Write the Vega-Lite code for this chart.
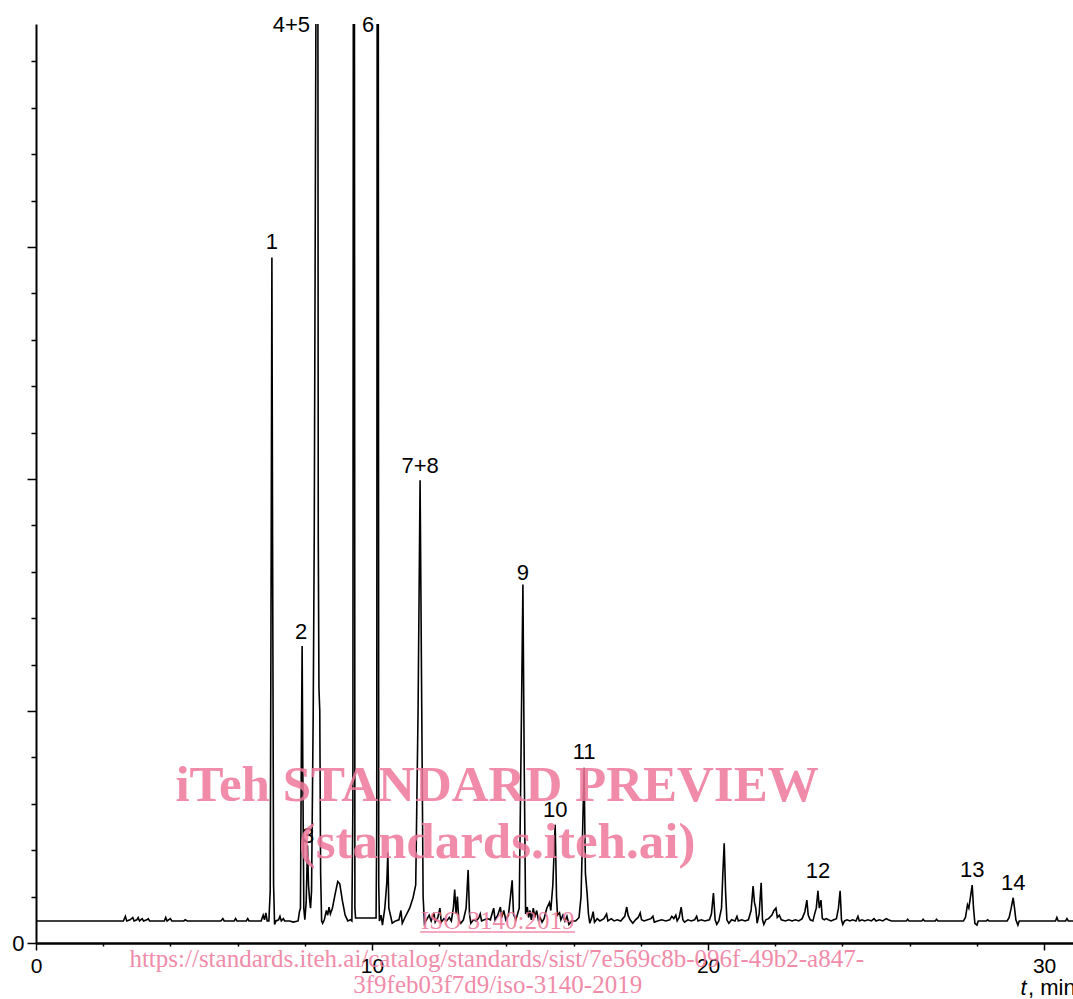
{
  "$schema": "https://vega.github.io/schema/vega-lite/v6.json",
  "width": 1037,
  "height": 919,
  "autosize": {"type": "none"},
  "padding": {"left": 36, "top": 24, "right": 0, "bottom": 56},
  "background": "white",
  "config": {"view": {"stroke": null}},
  "datasets": {
    "trace": [
      {"t":0,"v":0.19},{"t":2.6,"v":0.19},{"t":2.66,"v":0.23},{"t":2.7,"v":0.19},{"t":2.8,"v":0.2},{"t":2.88,"v":0.22},{"t":2.92,"v":0.19},{"t":3.0,"v":0.2},{"t":3.04,"v":0.22},{"t":3.08,"v":0.19},{"t":3.16,"v":0.21},{"t":3.2,"v":0.19},{"t":3.3,"v":0.2},{"t":3.34,"v":0.21},{"t":3.38,"v":0.19},{"t":3.82,"v":0.19},{"t":3.86,"v":0.22},{"t":3.9,"v":0.19},{"t":4.0,"v":0.21},{"t":4.04,"v":0.19},{"t":4.4,"v":0.19},{"t":4.44,"v":0.2},{"t":4.5,"v":0.19},{"t":5.5,"v":0.19},{"t":5.56,"v":0.21},{"t":5.6,"v":0.19},{"t":5.9,"v":0.19},{"t":5.94,"v":0.21},{"t":5.98,"v":0.19},{"t":6.26,"v":0.19},{"t":6.3,"v":0.21},{"t":6.34,"v":0.19},{"t":6.7,"v":0.19},{"t":6.76,"v":0.24},{"t":6.8,"v":0.2},{"t":6.84,"v":0.26},{"t":6.88,"v":0.19},{"t":6.93,"v":0.19},{"t":6.97,"v":0.45},{"t":7.0,"v":3.5},{"t":7.02,"v":5.91},{"t":7.04,"v":3.5},{"t":7.07,"v":0.5},{"t":7.1,"v":0.16},{"t":7.14,"v":0.19},{"t":7.22,"v":0.2},{"t":7.26,"v":0.23},{"t":7.3,"v":0.19},{"t":7.36,"v":0.21},{"t":7.4,"v":0.19},{"t":7.55,"v":0.19},{"t":7.66,"v":0.18},{"t":7.8,"v":0.19},{"t":7.84,"v":0.27},{"t":7.87,"v":0.3},{"t":7.9,"v":1.8},{"t":7.92,"v":2.56},{"t":7.94,"v":1.5},{"t":7.97,"v":0.3},{"t":8.0,"v":0.2},{"t":8.04,"v":0.35},{"t":8.08,"v":0.84},{"t":8.11,"v":0.5},{"t":8.14,"v":0.38},{"t":8.17,"v":0.3},{"t":8.2,"v":0.45},{"t":8.25,"v":2.0},{"t":8.28,"v":3.5},{"t":8.33,"v":8},{"t":8.36,"v":12},{"t":8.38,"v":12},{"t":8.4,"v":3.5},{"t":8.42,"v":2.2},{"t":8.445,"v":2.0},{"t":8.47,"v":0.6},{"t":8.5,"v":0.19},{"t":8.53,"v":0.17},{"t":8.58,"v":0.2},{"t":8.64,"v":0.28},{"t":8.68,"v":0.24},{"t":8.72,"v":0.31},{"t":8.76,"v":0.25},{"t":8.82,"v":0.3},{"t":8.9,"v":0.42},{"t":8.98,"v":0.53},{"t":9.04,"v":0.51},{"t":9.12,"v":0.36},{"t":9.2,"v":0.24},{"t":9.28,"v":0.19},{"t":9.36,"v":0.2},{"t":9.4,"v":0.19},{"t":9.43,"v":1.2},{"t":9.45,"v":12},{"t":9.47,"v":12},{"t":9.49,"v":0.3},{"t":9.51,"v":0.215},{"t":10.12,"v":0.215},{"t":10.14,"v":1.0},{"t":10.16,"v":12},{"t":10.18,"v":12},{"t":10.2,"v":0.5},{"t":10.22,"v":0.19},{"t":10.27,"v":0.24},{"t":10.31,"v":0.155},{"t":10.38,"v":0.3},{"t":10.44,"v":0.52},{"t":10.47,"v":0.78},{"t":10.5,"v":0.3},{"t":10.54,"v":0.25},{"t":10.6,"v":0.17},{"t":10.7,"v":0.19},{"t":10.8,"v":0.2},{"t":10.86,"v":0.28},{"t":10.9,"v":0.17},{"t":10.98,"v":0.22},{"t":11.12,"v":0.3},{"t":11.22,"v":0.39},{"t":11.3,"v":0.5},{"t":11.37,"v":2.0},{"t":11.43,"v":3.99},{"t":11.48,"v":2.0},{"t":11.52,"v":0.4},{"t":11.56,"v":0.17},{"t":11.62,"v":0.2},{"t":11.7,"v":0.24},{"t":11.76,"v":0.19},{"t":11.84,"v":0.26},{"t":11.88,"v":0.18},{"t":11.96,"v":0.22},{"t":12.02,"v":0.3},{"t":12.06,"v":0.18},{"t":12.14,"v":0.21},{"t":12.22,"v":0.19},{"t":12.3,"v":0.22},{"t":12.36,"v":0.19},{"t":12.42,"v":0.3},{"t":12.46,"v":0.46},{"t":12.5,"v":0.25},{"t":12.54,"v":0.4},{"t":12.58,"v":0.2},{"t":12.64,"v":0.17},{"t":12.72,"v":0.2},{"t":12.8,"v":0.3},{"t":12.86,"v":0.63},{"t":12.9,"v":0.25},{"t":12.94,"v":0.17},{"t":13.02,"v":0.2},{"t":13.1,"v":0.19},{"t":13.18,"v":0.22},{"t":13.22,"v":0.25},{"t":13.26,"v":0.19},{"t":13.34,"v":0.2},{"t":13.44,"v":0.21},{"t":13.52,"v":0.2},{"t":13.58,"v":0.26},{"t":13.62,"v":0.3},{"t":13.66,"v":0.2},{"t":13.74,"v":0.24},{"t":13.82,"v":0.31},{"t":13.86,"v":0.22},{"t":13.92,"v":0.28},{"t":13.98,"v":0.2},{"t":14.06,"v":0.24},{"t":14.12,"v":0.4},{"t":14.17,"v":0.54},{"t":14.21,"v":0.25},{"t":14.28,"v":0.2},{"t":14.38,"v":0.3},{"t":14.44,"v":1.8},{"t":14.49,"v":3.09},{"t":14.53,"v":1.5},{"t":14.57,"v":0.25},{"t":14.62,"v":0.31},{"t":14.66,"v":0.22},{"t":14.7,"v":0.28},{"t":14.74,"v":0.2},{"t":14.8,"v":0.3},{"t":14.84,"v":0.22},{"t":14.9,"v":0.28},{"t":14.95,"v":0.2},{"t":15.0,"v":0.22},{"t":15.06,"v":0.18},{"t":15.12,"v":0.21},{"t":15.2,"v":0.3},{"t":15.28,"v":0.35},{"t":15.32,"v":0.28},{"t":15.38,"v":0.5},{"t":15.45,"v":1.02},{"t":15.49,"v":0.4},{"t":15.52,"v":0.24},{"t":15.58,"v":0.26},{"t":15.62,"v":0.2},{"t":15.68,"v":0.24},{"t":15.74,"v":0.19},{"t":15.8,"v":0.23},{"t":15.86,"v":0.16},{"t":15.94,"v":0.19},{"t":16.06,"v":0.19},{"t":16.16,"v":0.22},{"t":16.22,"v":0.4},{"t":16.27,"v":1.0},{"t":16.31,"v":1.51},{"t":16.35,"v":0.6},{"t":16.4,"v":0.43},{"t":16.44,"v":0.25},{"t":16.48,"v":0.17},{"t":16.54,"v":0.22},{"t":16.58,"v":0.27},{"t":16.62,"v":0.18},{"t":16.7,"v":0.21},{"t":16.78,"v":0.19},{"t":16.9,"v":0.21},{"t":16.98,"v":0.25},{"t":17.02,"v":0.19},{"t":17.12,"v":0.21},{"t":17.2,"v":0.19},{"t":17.3,"v":0.2},{"t":17.4,"v":0.19},{"t":17.52,"v":0.23},{"t":17.58,"v":0.31},{"t":17.62,"v":0.24},{"t":17.68,"v":0.2},{"t":17.76,"v":0.17},{"t":17.84,"v":0.2},{"t":17.92,"v":0.22},{"t":17.98,"v":0.26},{"t":18.02,"v":0.2},{"t":18.1,"v":0.19},{"t":18.2,"v":0.2},{"t":18.3,"v":0.21},{"t":18.36,"v":0.23},{"t":18.4,"v":0.18},{"t":18.5,"v":0.19},{"t":18.62,"v":0.2},{"t":18.74,"v":0.19},{"t":18.86,"v":0.2},{"t":18.92,"v":0.23},{"t":18.98,"v":0.21},{"t":19.04,"v":0.24},{"t":19.08,"v":0.19},{"t":19.14,"v":0.22},{"t":19.2,"v":0.31},{"t":19.25,"v":0.2},{"t":19.3,"v":0.18},{"t":19.4,"v":0.2},{"t":19.5,"v":0.19},{"t":19.6,"v":0.2},{"t":19.66,"v":0.23},{"t":19.7,"v":0.19},{"t":19.8,"v":0.2},{"t":19.9,"v":0.19},{"t":20.04,"v":0.2},{"t":20.1,"v":0.25},{"t":20.16,"v":0.43},{"t":20.21,"v":0.2},{"t":20.26,"v":0.16},{"t":20.32,"v":0.19},{"t":20.4,"v":0.3},{"t":20.44,"v":0.6},{"t":20.48,"v":0.86},{"t":20.52,"v":0.45},{"t":20.56,"v":0.2},{"t":20.62,"v":0.17},{"t":20.7,"v":0.2},{"t":20.8,"v":0.19},{"t":20.86,"v":0.23},{"t":20.9,"v":0.19},{"t":21.0,"v":0.2},{"t":21.1,"v":0.19},{"t":21.2,"v":0.2},{"t":21.28,"v":0.28},{"t":21.34,"v":0.49},{"t":21.38,"v":0.35},{"t":21.42,"v":0.3},{"t":21.46,"v":0.17},{"t":21.52,"v":0.25},{"t":21.58,"v":0.52},{"t":21.62,"v":0.2},{"t":21.66,"v":0.16},{"t":21.72,"v":0.2},{"t":21.8,"v":0.21},{"t":21.9,"v":0.24},{"t":21.96,"v":0.28},{"t":22.02,"v":0.3},{"t":22.06,"v":0.22},{"t":22.12,"v":0.24},{"t":22.18,"v":0.2},{"t":22.3,"v":0.19},{"t":22.4,"v":0.2},{"t":22.5,"v":0.19},{"t":22.6,"v":0.2},{"t":22.7,"v":0.19},{"t":22.8,"v":0.21},{"t":22.88,"v":0.27},{"t":22.94,"v":0.37},{"t":22.98,"v":0.24},{"t":23.04,"v":0.2},{"t":23.12,"v":0.19},{"t":23.18,"v":0.26},{"t":23.22,"v":0.3},{"t":23.27,"v":0.45},{"t":23.31,"v":0.3},{"t":23.36,"v":0.37},{"t":23.4,"v":0.21},{"t":23.46,"v":0.2},{"t":23.52,"v":0.21},{"t":23.58,"v":0.2},{"t":23.66,"v":0.19},{"t":23.74,"v":0.2},{"t":23.82,"v":0.21},{"t":23.88,"v":0.3},{"t":23.93,"v":0.45},{"t":23.97,"v":0.2},{"t":24.01,"v":0.16},{"t":24.06,"v":0.19},{"t":24.14,"v":0.2},{"t":24.22,"v":0.19},{"t":24.3,"v":0.2},{"t":24.4,"v":0.19},{"t":24.46,"v":0.23},{"t":24.5,"v":0.19},{"t":24.58,"v":0.2},{"t":24.66,"v":0.19},{"t":24.76,"v":0.2},{"t":24.86,"v":0.19},{"t":24.94,"v":0.21},{"t":25.0,"v":0.19},{"t":25.1,"v":0.2},{"t":25.2,"v":0.19},{"t":25.3,"v":0.21},{"t":25.36,"v":0.2},{"t":25.46,"v":0.19},{"t":25.9,"v":0.19},{"t":25.94,"v":0.205},{"t":25.98,"v":0.19},{"t":26.36,"v":0.19},{"t":26.4,"v":0.205},{"t":26.44,"v":0.19},{"t":26.76,"v":0.19},{"t":26.8,"v":0.205},{"t":26.84,"v":0.19},{"t":27.6,"v":0.19},{"t":27.66,"v":0.22},{"t":27.72,"v":0.33},{"t":27.76,"v":0.3},{"t":27.82,"v":0.42},{"t":27.86,"v":0.5},{"t":27.9,"v":0.3},{"t":27.94,"v":0.17},{"t":28.0,"v":0.155},{"t":28.04,"v":0.19},{"t":28.28,"v":0.19},{"t":28.32,"v":0.2},{"t":28.36,"v":0.19},{"t":28.9,"v":0.19},{"t":28.96,"v":0.22},{"t":29.02,"v":0.3},{"t":29.08,"v":0.39},{"t":29.12,"v":0.3},{"t":29.16,"v":0.2},{"t":29.22,"v":0.155},{"t":29.26,"v":0.19},{"t":30.34,"v":0.19},{"t":30.38,"v":0.22},{"t":30.42,"v":0.19},{"t":30.64,"v":0.19},{"t":30.68,"v":0.21},{"t":30.72,"v":0.19},{"t":30.86,"v":0.19}
    ],
    "peaks": [
      {"label":"1","t":7.02,"v":6.04},
      {"label":"2","t":7.89,"v":2.68},
      {"label":"3","t":8.1,"v":0.92},
      {"label":"4+5","t":7.6,"v":7.91},
      {"label":"6","t":9.88,"v":7.91},
      {"label":"7+8","t":11.43,"v":4.11},
      {"label":"9","t":14.49,"v":3.19},
      {"label":"10","t":15.45,"v":1.15},
      {"label":"11","t":16.31,"v":1.65},
      {"label":"12","t":23.27,"v":0.62},
      {"label":"13","t":27.86,"v":0.63},
      {"label":"14","t":29.08,"v":0.52}
    ],
    "wmBig": [
      {"text":"iTeh STANDARD PREVIEW","t":13.72,"v":1.224},
      {"text":"(standards.iteh.ai)","t":13.72,"v":0.733}
    ],
    "wmSmall": [
      {"text":"ISO 3140:2019","t":13.74,"v":0.12},
      {"text":"https://standards.iteh.ai/catalog/standards/sist/7e569c8b-096f-49b2-a847-","t":13.71,"v":-0.207},
      {"text":"3f9feb03f7d9/iso-3140-2019","t":13.74,"v":-0.431}
    ],
    "underline": [
      {"t":11.43,"t2":16.04,"v":0.095}
    ],
    "axisT": [{"text":"t","t":29.3,"v":-0.39}],
    "axisMin": [{"text":", min","t":29.52,"v":-0.39}]
  },
  "layer": [
    {
      "data": {"name": "trace"},
      "mark": {"type": "line", "color": "black", "strokeWidth": 1.6, "clip": true},
      "encoding": {
        "x": {
          "field": "t", "type": "quantitative",
          "scale": {"domain": [0, 30.86], "nice": false, "zero": false},
          "axis": {
            "title": null, "grid": false,
            "values": [0,1,2,3,4,5,6,7,8,9,10,11,12,13,14,15,16,17,18,19,20,21,22,23,24,25,26,27,28,29,30],
            "labelExpr": "datum.value % 5 === 0 ? datum.label : ''",
            "labelOverlap": false, "labelFlush": false,
            "tickSize": {"condition": {"test": "datum.value % 5 === 0", "value": 7}, "value": 3},
            "tickColor": "black", "tickWidth": 1.5,
            "domainColor": "black", "domainWidth": 2.5,
            "labelFont": "Liberation Sans", "labelFontSize": 21, "labelColor": "black", "labelPadding": 5
          }
        },
        "y": {
          "field": "v", "type": "quantitative",
          "scale": {"domain": [0, 7.922], "nice": false},
          "axis": {
            "title": null, "grid": false,
            "values": [0,0.2,0.4,0.6,0.8,1,1.2,1.4,1.6,1.8,2,2.2,2.4,2.6,2.8,3,3.2,3.4,3.6,3.8,4,4.2,4.4,4.6,4.8,5,5.2,5.4,5.6,5.8,6,6.2,6.4,6.6,6.8,7,7.2,7.4,7.6,7.8],
            "labelExpr": "datum.value === 0 ? '0' : ''",
            "labelOverlap": false, "labelFlush": false,
            "tickSize": {"condition": {"test": "abs(datum.value - round(datum.value)) < 0.01", "value": 9}, "value": 5},
            "tickColor": "black", "tickWidth": 1.5,
            "domainColor": "black", "domainWidth": 2,
            "labelFont": "Liberation Sans", "labelFontSize": 22, "labelColor": "black", "labelPadding": 3
          }
        }
      }
    },
    {
      "data": {"name": "peaks"},
      "mark": {"type": "text", "font": "Liberation Sans", "fontSize": 22, "color": "black", "baseline": "middle", "align": "center"},
      "encoding": {
        "x": {"field": "t", "type": "quantitative"},
        "y": {"field": "v", "type": "quantitative"},
        "text": {"field": "label"}
      }
    },
    {
      "data": {"name": "axisT"},
      "mark": {"type": "text", "font": "Liberation Sans", "fontSize": 22, "fontStyle": "italic", "color": "black", "baseline": "middle", "align": "left"},
      "encoding": {
        "x": {"field": "t", "type": "quantitative"},
        "y": {"field": "v", "type": "quantitative"},
        "text": {"field": "text"}
      }
    },
    {
      "data": {"name": "axisMin"},
      "mark": {"type": "text", "font": "Liberation Sans", "fontSize": 22, "color": "black", "baseline": "middle", "align": "left"},
      "encoding": {
        "x": {"field": "t", "type": "quantitative"},
        "y": {"field": "v", "type": "quantitative"},
        "text": {"field": "text"}
      }
    },
    {
      "data": {"name": "wmBig"},
      "mark": {"type": "text", "font": "Liberation Serif", "fontSize": 51, "fontWeight": "bold", "color": "#ee789b", "opacity": 0.85, "baseline": "alphabetic", "align": "center"},
      "encoding": {
        "x": {"field": "t", "type": "quantitative"},
        "y": {"field": "v", "type": "quantitative"},
        "text": {"field": "text"}
      }
    },
    {
      "data": {"name": "wmSmall"},
      "mark": {"type": "text", "font": "Liberation Serif", "fontSize": 25, "color": "#ee789b", "opacity": 0.85, "baseline": "alphabetic", "align": "center"},
      "encoding": {
        "x": {"field": "t", "type": "quantitative"},
        "y": {"field": "v", "type": "quantitative"},
        "text": {"field": "text"}
      }
    },
    {
      "data": {"name": "underline"},
      "mark": {"type": "rule", "color": "#ee789b", "opacity": 0.85, "strokeWidth": 1.5},
      "encoding": {
        "x": {"field": "t", "type": "quantitative"},
        "x2": {"field": "t2"},
        "y": {"field": "v", "type": "quantitative"}
      }
    }
  ]
}
